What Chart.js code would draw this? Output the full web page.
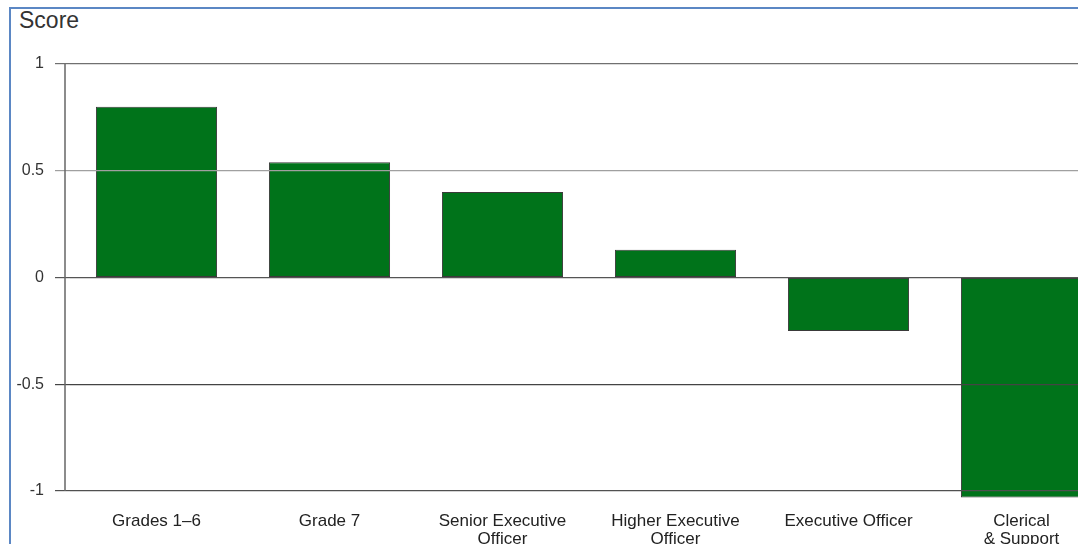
<!DOCTYPE html>
<html>
<head>
<meta charset="utf-8">
<script src="https://cdn.jsdelivr.net/npm/chart.js@4/dist/chart.umd.min.js"></script>
<style>
    html, body { margin: 0; padding: 0; background: #fff; overflow: hidden; }
    body { width: 1078px; height: 544px; position: relative; }
    #frame {
        position: absolute; left: 9px; top: 7px; width: 1200px; height: 600px;
        border-left: 2px solid #5b87c4; border-top: 2px solid #5b87c4;
    }
    #title {
        position: absolute; left: 19px; top: 7px;
        font: 23px "Liberation Sans", Arial, sans-serif; color: #333;
    }
    #wrap { position: absolute; left: 0; top: 0; width: 1120px; height: 544px; }
</style>
</head>
<body>
<div id="frame"></div>
<div id="title">Score</div>
<div id="wrap"><canvas id="scoreChart"></canvas></div>
<script>
const grades = ['Grades 1\u20136', 'Grade 7', ['Senior Executive', 'Officer'], ['Higher Executive', 'Officer'], 'Executive Officer', ['Clerical', '& Support']];
const scores = [0.80, 0.54, 0.40, 0.13, -0.25, -1.03];
const yTicks = [1, 0.5, 0, -0.5, -1];
// gridline shades, top to bottom
const gridShades = ['#707070', '#a0a0a0', '#555555', '#444444', '#505050'];

// vertical axis line sits a few px left of the first category band
const axisLine = {
    id: 'axisLine',
    afterDraw(chart) {
        const { ctx, chartArea } = chart;
        ctx.save();
        ctx.strokeStyle = '#666';
        ctx.lineWidth = 1.5;
        ctx.beginPath();
        ctx.moveTo(65, chartArea.top);
        ctx.lineTo(65, chartArea.bottom);
        ctx.stroke();
        ctx.restore();
    }
};

const ctx = document.getElementById('scoreChart').getContext('2d');
const scoreChart = new Chart(ctx, {
    type: 'bar',
    data: {
        labels: grades,
        datasets: [{
            data: scores,
            backgroundColor: '#00731a',
            borderColor: '#3a3a3a',
            borderWidth: 1,
            borderSkipped: false,
            barPercentage: 0.7,
            categoryPercentage: 1,
            clip: false
        }]
    },
    options: {
        responsive: true,
        maintainAspectRatio: false,
        animation: false,
        layout: { padding: { top: 64, left: 0, right: 12, bottom: 0 } },
        plugins: { legend: { display: false }, tooltip: { enabled: false } },
        scales: {
            x: {
                grid: { display: false },
                border: { display: false },
                ticks: {
                    color: '#222',
                    padding: 13,
                    maxRotation: 0,
                    autoSkip: false,
                    font: { family: '"Liberation Sans", Arial, sans-serif', size: 17, lineHeight: 1.06 }
                },
                afterFit: (scale) => { scale.height = 53; }
            },
            y: {
                min: -1,
                max: 1,
                afterBuildTicks: (scale) => { scale.ticks = yTicks.map(v => ({ value: v })); },
                afterFit: (scale) => { scale.width = 70; },
                grid: {
                    z: 1,
                    color: (c) => gridShades[yTicks.indexOf(c.tick.value)] || '#666',
                    lineWidth: 1.2,
                    tickLength: 15
                },
                border: { display: false },
                ticks: {
                    color: '#333',
                    padding: 11,
                    font: { family: '"Liberation Sans", Arial, sans-serif', size: 16 },
                    callback: (v) => String(v)
                }
            }
        }
    },
    plugins: [axisLine]
});
</script>
</body>
</html>
